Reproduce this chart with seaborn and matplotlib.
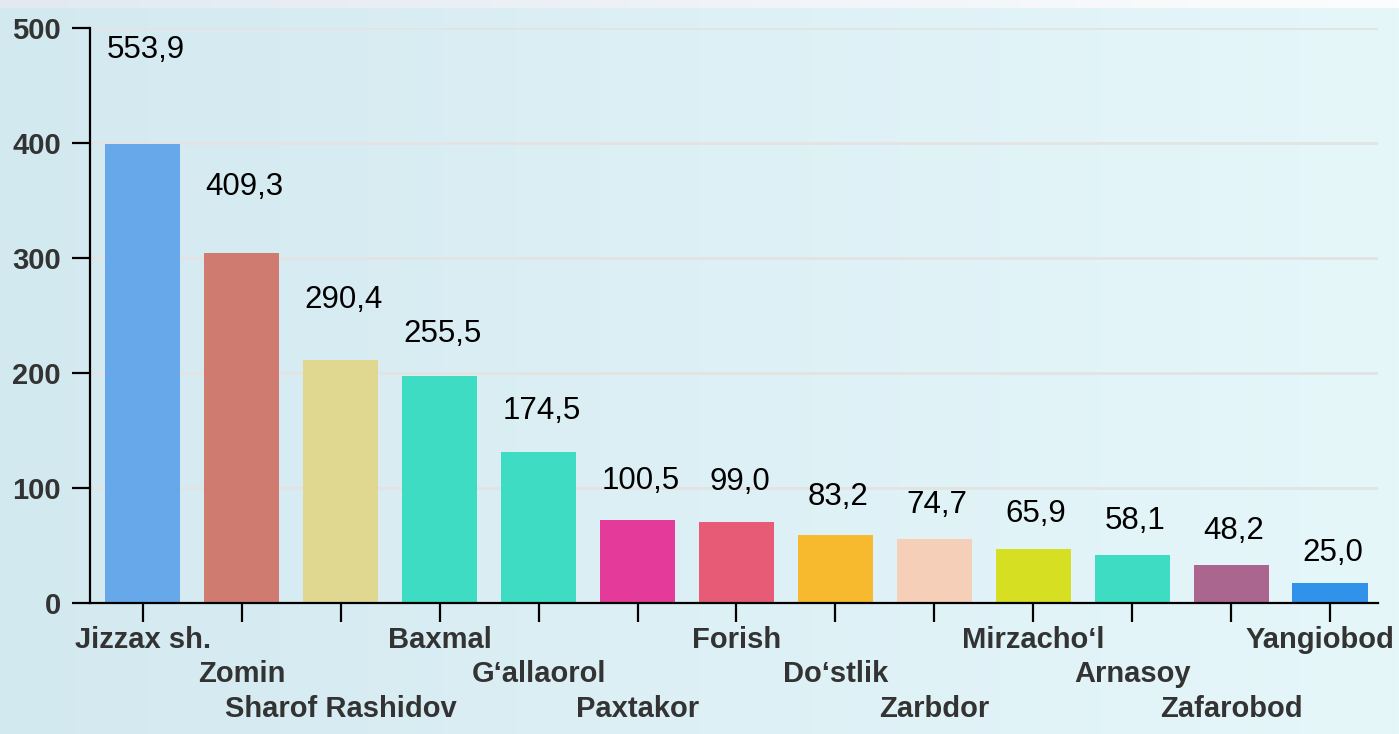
import matplotlib
matplotlib.use("Agg")
import matplotlib.pyplot as plt
import seaborn as sns
import numpy as np

sns.set_theme(style="white")
plt.rcParams['font.family'] = ['Liberation Sans', 'DejaVu Sans']

# data
districts = ["Jizzax sh.", "Zomin", "Sharof Rashidov", "Baxmal", "G\u2018allaorol",
             "Paxtakor", "Forish", "Do\u2018stlik", "Zarbdor", "Mirzacho\u2018l",
             "Arnasoy", "Zafarobod", "Yangiobod"]
bar_heights = [399, 304, 211, 197, 131, 72, 70.5, 59, 55.5, 47, 42, 33, 17.5]
value_labels = [553.9, 409.3, 290.4, 255.5, 174.5, 100.5, 99.0, 83.2, 74.7,
                65.9, 58.1, 48.2, 25.0]
bar_colors = ["#67a8ea", "#d07b70", "#e0d890", "#3ddcc3", "#3ddcc3", "#e43a99",
              "#e85b76", "#f7b92d", "#f5cfb7", "#d6df22", "#3ddcc3", "#aa668e",
              "#3192ea"]
y_ticks = [0, 100, 200, 300, 400, 500]

fig = plt.figure(figsize=(13.99, 7.34), dpi=100)

# background gradient
W, H = 1399, 734
t = np.linspace(0, 1, W)[None, :, None]
left = np.array([211, 233, 240]) / 255
right = np.array([230, 247, 250]) / 255
bg = np.repeat(left + (right - left) * t, H, axis=0)
top_l = np.array([226, 233, 241]) / 255
top_r = np.array([252, 253, 254]) / 255
bg[:8] = (top_l + (top_r - top_l) * t)[0]
bg_ax = fig.add_axes([0, 0, 1, 1], zorder=-10)
bg_ax.imshow(bg, aspect='auto', interpolation='bilinear')
bg_ax.axis('off')

ax = fig.add_axes([0.0643, 0.1785, 0.9207, 0.7834])
ax.set_facecolor('none')

sns.barplot(x=districts, y=bar_heights, hue=districts, palette=bar_colors,
            legend=False, width=0.76, saturation=1, linewidth=0, ax=ax)

ax.set_xlim(-0.535, 12.485)
ax.set_ylim(0, 500)
ax.set_yticks(y_ticks)
ax.set_yticklabels([str(v) for v in y_ticks], fontsize=21, fontweight='bold', color='#333333')
ax.yaxis.grid(True, color='#e3e3e3', lw=2)
ax.set_axisbelow(True)
ax.set_xlabel("")
ax.set_ylabel("")

for side in ['top', 'right']:
    ax.spines[side].set_visible(False)
for side in ['left', 'bottom']:
    ax.spines[side].set_color('black')
    ax.spines[side].set_linewidth(1.6)

ax.tick_params(axis='y', length=13, width=1.6, color='black', pad=8, left=True)
ax.tick_params(axis='x', length=13.5, width=1.6, color='black', bottom=True, labelbottom=False)

# staggered district names
for i, name in enumerate(districts):
    row = i % 3
    dx = -7 if i == len(districts) - 1 else 0
    ax.annotate(name, xy=(i, 0), xycoords=('data', 'axes fraction'),
                xytext=(dx, -32.5 - 24.7 * row), textcoords='offset points',
                ha='center', va='baseline', fontsize=21, fontweight='bold',
                color='#333333', annotation_clip=False)

# value labels
for i, v in enumerate(value_labels):
    ax.text(i + 0.03, 0.827 * v + 23, f"{v:.1f}".replace('.', ','), ha='center', va='center',
            fontsize=22.5, color='black')

fig.savefig("out.png", dpi=100)
